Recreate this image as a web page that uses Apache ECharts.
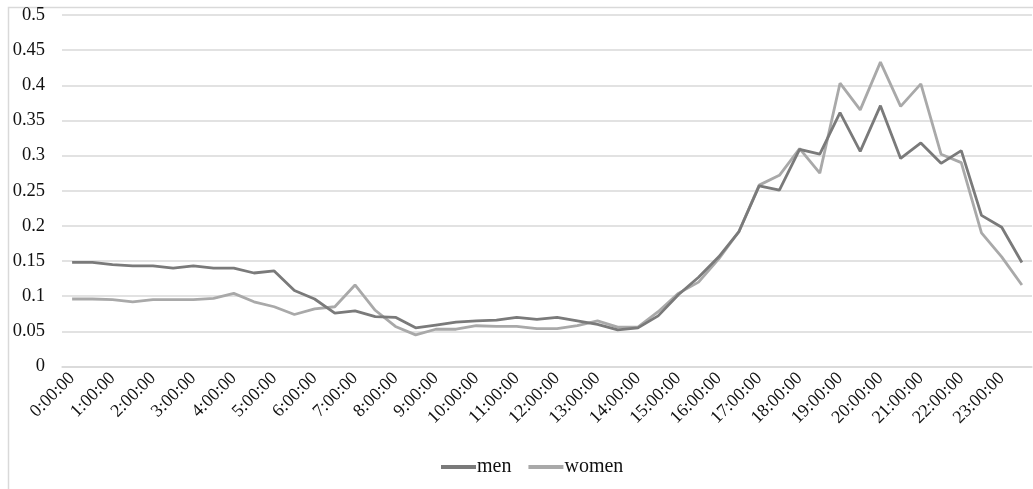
<!DOCTYPE html>
<html>
<head>
<meta charset="utf-8">
<script src="https://cdn.jsdelivr.net/npm/echarts@6/dist/echarts.min.js"></script>
<style>
  html, body { margin: 0; padding: 0; background: #fff; }
  #chart { width: 1033px; height: 489px; }
</style>
</head>
<body>
<div id="chart"></div>
<script>
// Half-hour time slots across the day
const times = [];
for (let h = 0; h < 24; h++) {
  times.push(h + ':00:00');
  times.push(h + ':30:00');
}

const men = [
  0.148, 0.148, 0.145, 0.143, 0.143, 0.140, 0.143, 0.140, 0.140, 0.133,
  0.136, 0.108, 0.096, 0.076, 0.079, 0.071, 0.070, 0.055, 0.059, 0.063,
  0.065, 0.066, 0.070, 0.067, 0.070, 0.065, 0.060, 0.052, 0.055, 0.072,
  0.102, 0.127, 0.156, 0.192, 0.257, 0.251, 0.309, 0.302, 0.361, 0.306,
  0.371, 0.296, 0.318, 0.289, 0.307, 0.215, 0.198, 0.148
];

const women = [
  0.096, 0.096, 0.095, 0.092, 0.095, 0.095, 0.095, 0.097, 0.104, 0.092,
  0.085, 0.074, 0.082, 0.085, 0.116, 0.080, 0.057, 0.045, 0.053, 0.053,
  0.058, 0.057, 0.057, 0.054, 0.054, 0.058, 0.065, 0.056, 0.056, 0.078,
  0.104, 0.120, 0.153, 0.192, 0.258, 0.272, 0.310, 0.275, 0.403, 0.365,
  0.433, 0.370, 0.402, 0.302, 0.290, 0.190, 0.156, 0.116
];

const serif = '"Liberation Serif", "DejaVu Serif", serif';

const chart = echarts.init(document.getElementById('chart'));
chart.setOption({
  animation: false,
  graphic: [{
    type: 'rect',
    shape: { x: 8.5, y: 7.5, width: 1200, height: 600 },
    style: { fill: 'none', stroke: '#d9d9d9', lineWidth: 1.5 },
    silent: true
  }],
  grid: { left: 62, right: 1, top: 15, bottom: 122.5, containLabel: false },
  legend: {
    bottom: 7,
    left: 436,
    itemWidth: 35,
    itemHeight: 4,
    itemGap: 17,
    icon: 'rect',
    textStyle: { fontFamily: serif, fontSize: 20, color: '#111', padding: [0, 0, 0, -4] },
    data: ['men', 'women']
  },
  xAxis: {
    type: 'category',
    data: times,
    boundaryGap: true,
    axisLine: { show: true, lineStyle: { color: '#d9d9d9', width: 1.5 } },
    axisTick: { show: false },
    axisLabel: {
      interval: 1,
      rotate: 45,
      fontFamily: serif,
      fontSize: 18,
      color: '#111',
      margin: 9
    },
    splitLine: { show: false }
  },
  yAxis: {
    type: 'value',
    min: 0,
    max: 0.5,
    interval: 0.05,
    axisLine: { show: false },
    axisTick: { show: false },
    axisLabel: {
      fontFamily: serif,
      fontSize: 18.5,
      color: '#111',
      margin: 17,
      formatter: v => String(parseFloat(v.toFixed(2)))
    },
    splitLine: { lineStyle: { color: '#d9d9d9', width: 1.5 } }
  },
  series: [
    {
      name: 'men',
      type: 'line',
      data: men,
      symbol: 'none',
      itemStyle: { color: '#7a7a7a' },
      lineStyle: { color: '#7a7a7a', width: 2.8 },
      z: 3
    },
    {
      name: 'women',
      type: 'line',
      data: women,
      symbol: 'none',
      itemStyle: { color: '#a9a9a9' },
      lineStyle: { color: '#a9a9a9', width: 2.8 },
      z: 2
    }
  ]
});
</script>
</body>
</html>
